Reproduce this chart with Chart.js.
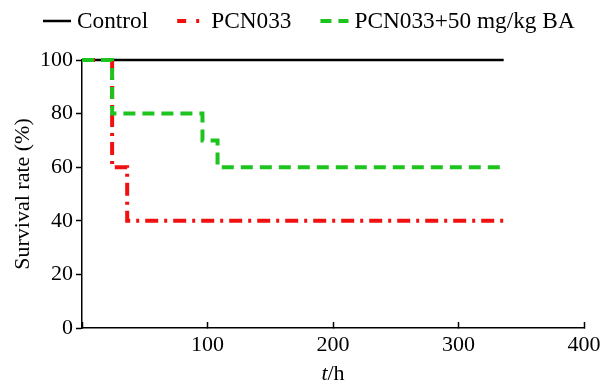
<!DOCTYPE html>
<html>
<head>
<meta charset="utf-8">
<script src="https://cdn.jsdelivr.net/npm/chart.js@4"></script>
<style>
  html, body { margin: 0; padding: 0; background: #fff; }
  #wrap { width: 601px; height: 384px; }
</style>
</head>
<body>
<div id="wrap"><canvas id="survival-chart" width="601" height="384"></canvas></div>
<script>
// survival data, hours vs %
var controlTime = [0, 336];
var controlRate = [100, 100];

var pcnTime = [0, 24, 36, 336];
var pcnRate = [100, 60, 40, 40];

var baTime = [0, 24, 96, 108, 336];
var baRate = [100, 80, 70, 60, 60];

var xTicks = [100, 200, 300, 400];
var yTicks = [0, 20, 40, 60, 80, 100];

var FONT = "'Liberation Serif', 'Times New Roman', serif";

function toPoints(t, v){
    var pts = [];
    for (var i = 0; i < t.length; i++) pts.push({x: t[i], y: v[i]});
    return pts;
}

// legend drawn by hand: short sample line, small gap, label
var legendPlugin = {
    id: 'topLegend',
    afterDraw: function(chart){
        var ctx = chart.ctx;
        var sample = 28, gap = 6, spacing = 29;
        var x = chart.chartArea.left - 39;
        var y = 21;
        ctx.save();
        ctx.font = '23.3px ' + FONT;
        chart.data.datasets.forEach(function(ds){
            ctx.beginPath();
            ctx.strokeStyle = ds.borderColor;
            ctx.lineWidth = ds.legendWidth || ds.borderWidth;
            ctx.setLineDash(ds.legendDash || []);
            ctx.moveTo(x, y);
            ctx.lineTo(x + sample, y);
            ctx.stroke();
            ctx.setLineDash([]);
            ctx.fillStyle = '#000';
            ctx.textBaseline = 'middle';
            ctx.textAlign = 'left';
            ctx.fillText(ds.label, x + sample + gap, y + 1);
            x += sample + gap + ctx.measureText(ds.label).width + spacing;
        });
        ctx.restore();
    }
};

// x title with italic t
var xTitlePlugin = {
    id: 'xTitle',
    afterDraw: function(chart){
        var ctx = chart.ctx, area = chart.chartArea;
        var cx = (area.left + area.right) / 2;
        var y = chart.scales.x.bottom - 4;
        ctx.save();
        ctx.fillStyle = '#000';
        ctx.textBaseline = 'alphabetic';
        ctx.textAlign = 'left';
        ctx.font = 'italic 22px ' + FONT;
        var w1 = ctx.measureText('t').width;
        ctx.font = '22px ' + FONT;
        var w2 = ctx.measureText('/h').width;
        var x0 = cx - (w1 + w2) / 2;
        ctx.font = 'italic 22px ' + FONT;
        ctx.fillText('t', x0, y);
        ctx.font = '22px ' + FONT;
        ctx.fillText('/h', x0 + w1, y);
        ctx.restore();
    }
};

var lineData = {
    datasets: [
        {
            label: 'Control',
            data: toPoints(controlTime, controlRate),
            borderColor: '#000000',
            backgroundColor: '#000000',
            borderWidth: 2.5,
            clip: 6,
            order: 2
        },
        {
            label: 'PCN033',
            data: toPoints(pcnTime, pcnRate),
            borderColor: '#f01010',
            backgroundColor: '#f01010',
            borderWidth: 4,
            borderDash: [13, 6, 3, 6],
            legendDash: [9, 10, 3, 10],
            stepped: 'before',
            clip: 6,
            order: 1
        },
        {
            label: 'PCN033+50 mg/kg BA',
            data: toPoints(baTime, baRate),
            borderColor: '#1ec41e',
            backgroundColor: '#1ec41e',
            borderWidth: 4,
            borderDash: [12, 7],
            legendDash: [11, 7],
            stepped: 'before',
            clip: 6,
            order: 0
        }
    ]
};

var lineOptions = {
    responsive: false,
    animation: false,
    layout: { padding: { left: 0, right: 17, top: 60, bottom: 0 } },
    elements: { point: { radius: 0 }, line: { tension: 0 } },
    plugins: {
        tooltip: { enabled: false },
        legend: { display: false }
    },
    scales: {
        x: {
            type: 'linear',
            min: 0,
            max: 400,
            afterBuildTicks: function(scale){
                scale.ticks = [{value: 0}].concat(xTicks.map(function(v){ return {value: v}; }));
            },
            afterFit: function(scale){
                scale.height = 56;
                scale.paddingRight = 0;
            },
            ticks: {
                font: { family: FONT, size: 22 },
                color: '#000',
                padding: 10,
                maxRotation: 0,
                callback: function(v){ return v === 0 ? '' : v; }
            },
            grid: { drawOnChartArea: false, tickLength: -6, tickWidth: 1.5, color: '#000' },
            border: { color: '#000', width: 1.5 }
        },
        y: {
            min: 0,
            max: 100,
            afterBuildTicks: function(scale){
                scale.ticks = yTicks.map(function(v){ return {value: v}; });
            },
            afterFit: function(scale){ scale.width = 82; },
            ticks: {
                font: { family: FONT, size: 22 },
                color: '#000',
                padding: 3
            },
            grid: { drawOnChartArea: false, tickLength: 6, tickWidth: 1.5, color: '#000' },
            border: { color: '#000', width: 1.5 },
            title: {
                display: true,
                text: 'Survival rate (%)',
                font: { family: FONT, size: 22 },
                color: '#000',
                padding: { top: 10, bottom: 0 }
            }
        }
    }
};

var ctx = document.getElementById('survival-chart').getContext('2d');
var myChart = new Chart(ctx, { type: 'line', data: lineData, options: lineOptions, plugins: [legendPlugin, xTitlePlugin] });
</script>
</body>
</html>
